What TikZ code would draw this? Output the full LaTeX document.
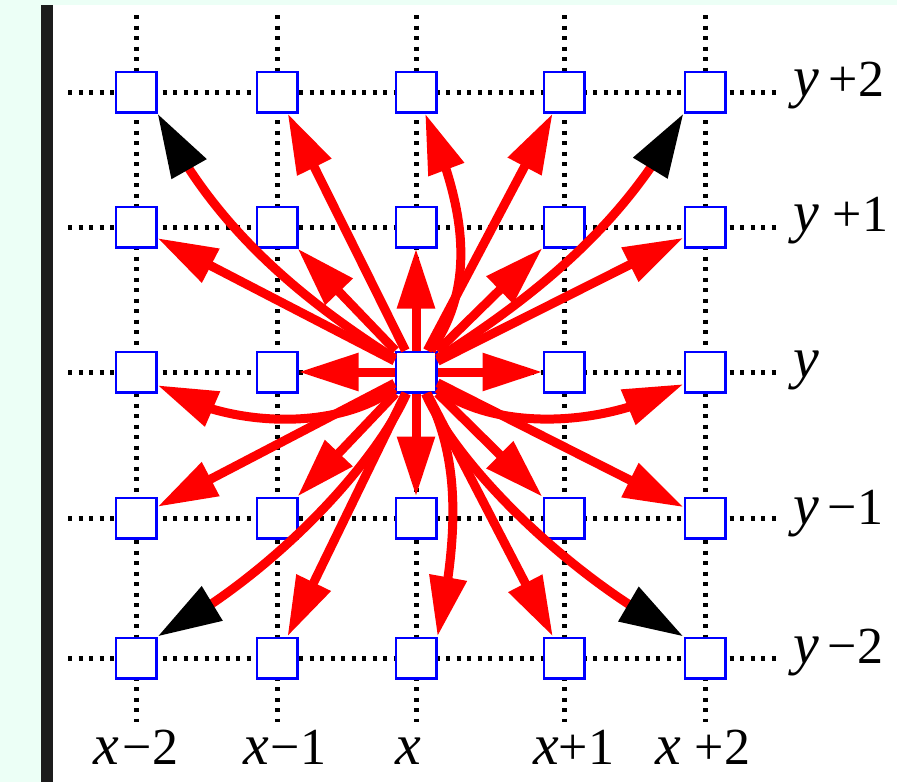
\documentclass[tikz,border=0pt]{standalone}
\usepackage{fontspec}
\setmainfont{Liberation Serif}
\usetikzlibrary{arrows.meta,bending}
\definecolor{BackClr}{RGB}{236,255,246}
\definecolor{BarClr}{RGB}{28,28,28}
\definecolor{CellClr}{RGB}{0,0,255}
\definecolor{ArrowClr}{RGB}{255,0,0}
\newcommand{\VarTxt}[1]{{\fontsize{58}{58}\selectfont\itshape #1}}
\newcommand{\NumTxt}[1]{{\fontsize{52}{52}\selectfont #1}}

\begin{document}
\begin{tikzpicture}[x=1pt,y=-1pt,
  cell/.style={draw=CellClr,fill=white,line width=2.5pt,minimum size=40.5pt,inner sep=0pt},
  gridline/.style={line width=5pt,dash pattern=on 4pt off 6.5pt},
  arr/.style={draw=ArrowClr,line width=9pt,-{Triangle[length=60pt,width=36pt]}},
  darr/.style={draw=ArrowClr,line width=9pt,-{Triangle[length=64pt,width=38pt,color=black]}},
  lbl/.style={anchor=base west,inner sep=0pt}]

\fill[BackClr] (0,0) rectangle (897,782);
\fill[BarClr] (41,5) rectangle (53,782);
\fill[white] (53,5) rectangle (897,782);
\useasboundingbox (0,0) rectangle (897,782);

\foreach \cx in {136,277,416,564,705}
  \draw[gridline] (\cx,15) -- (\cx,722);
\foreach \cy in {92,227,372,518,658}
  \draw[gridline] (68,\cy) -- (778,\cy);

\foreach \cx [count=\i] in {136,277,416,564,705}
  \foreach \cy [count=\j] in {92,227,372,518,658}
    \node[cell] (p-\i-\j) at (\cx,\cy) {};

\foreach \t in {2-1,4-1,1-2,2-2,3-2,4-2,5-2,2-3,4-3,1-4,2-4,3-4,4-4,5-4,2-5,4-5}
  \draw[arr] (p-3-3) -- (p-\t);

\draw[arr] (p-3-3) .. controls (480,280) and (462,200) .. (p-3-1);
\draw[arr] (p-3-3) .. controls (455,450) and (463,517) .. (p-3-5.north east);
\draw[arr] (p-3-3) .. controls (340,430) and (230,430) .. (p-1-3);
\draw[arr] (p-3-3) .. controls (492,430) and (602,430) .. (p-5-3);

\draw[darr] (p-3-3) .. controls (295,295) and (211,223) .. (p-1-1.south east);
\draw[darr] (p-3-3) .. controls (537,295) and (626,223) .. (p-5-1.south west);
\draw[darr] (p-3-3) .. controls (375,465) and (271,577) .. (p-1-5.north east);
\draw[darr] (p-3-3) .. controls (457,465) and (568,577) .. (p-5-5.north west);

\node[lbl] (lx-1) at (93,764) {\VarTxt{x}\hspace{4pt}\NumTxt{−2}};
\node[lbl] (lx-2) at (243,764) {\VarTxt{x}\hspace{2pt}\NumTxt{−1}};
\node[lbl] (lx-3) at (395,764) {\VarTxt{x}};
\node[lbl] (lx-4) at (533,764) {\VarTxt{x}\NumTxt{+1}};
\node[lbl] (lx-5) at (655,764) {\VarTxt{x}\hspace{14pt}\NumTxt{+2}};

\node[lbl] (ly-1) at (793,96) {\VarTxt{y}\hspace{10pt}\NumTxt{+2}};
\node[lbl] (ly-2) at (793,231) {\VarTxt{y}\hspace{14pt}\NumTxt{+1}};
\node[lbl] (ly-3) at (793,377) {\VarTxt{y}};
\node[lbl] (ly-4) at (793,524) {\VarTxt{y}\hspace{9pt}\NumTxt{−1}};
\node[lbl] (ly-5) at (793,663) {\VarTxt{y}\hspace{9pt}\NumTxt{−2}};

\end{tikzpicture}
\end{document}
